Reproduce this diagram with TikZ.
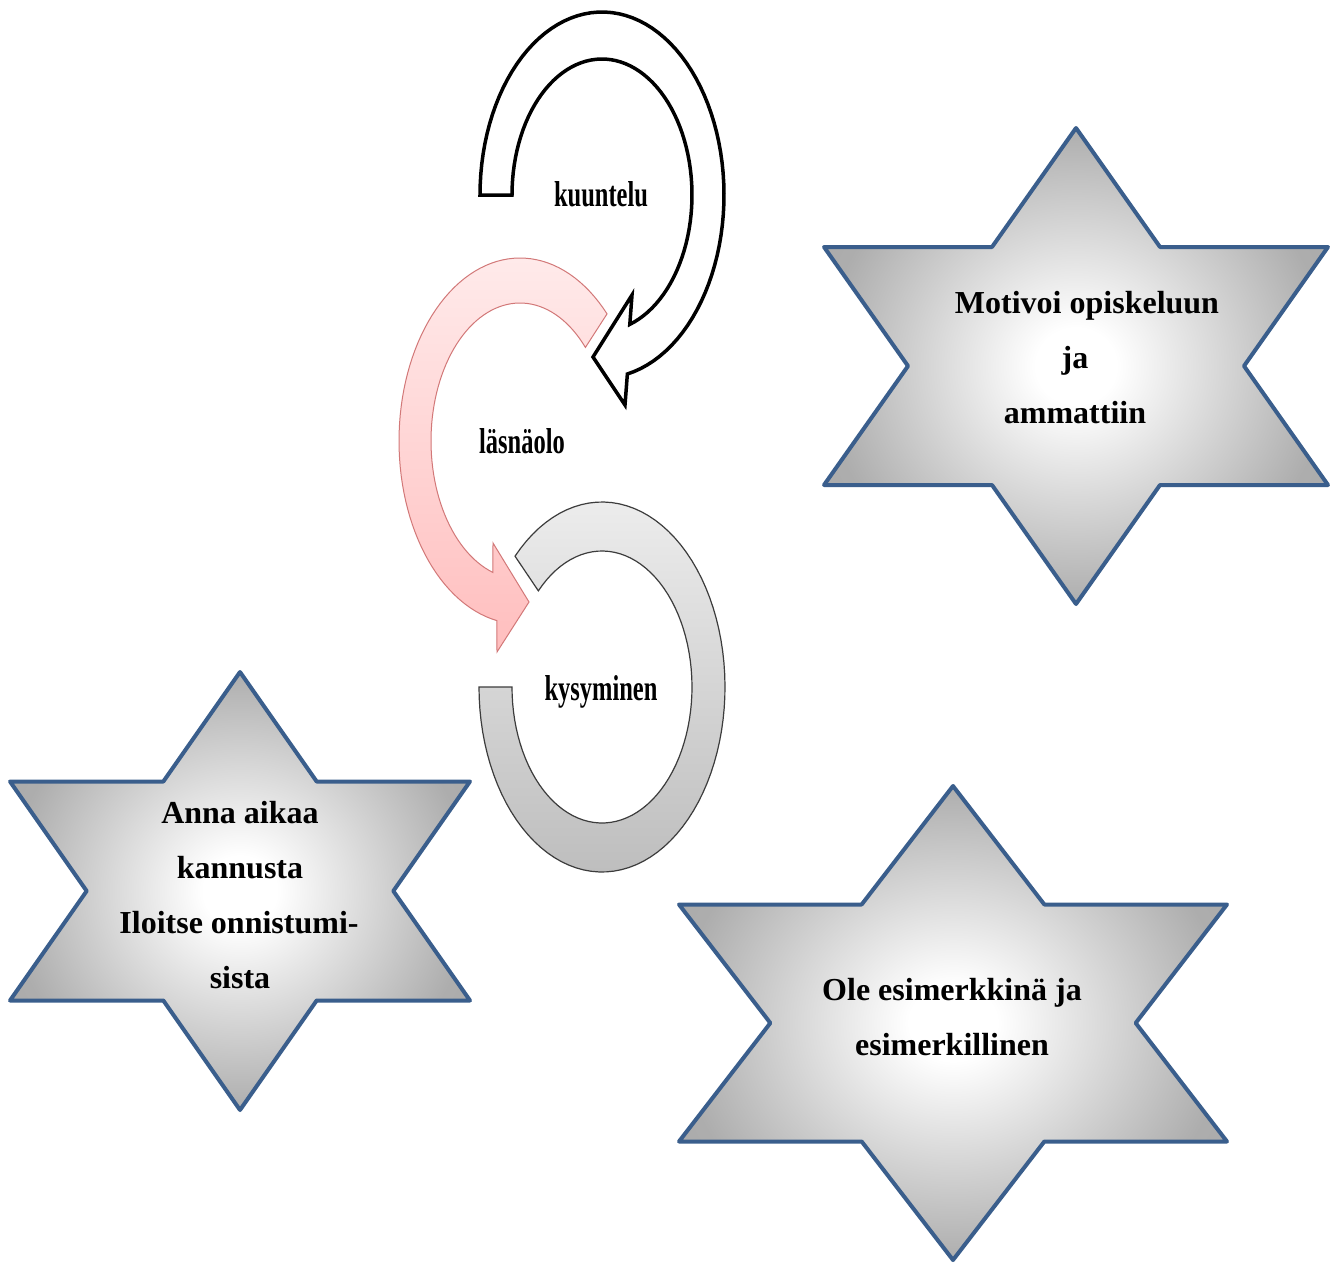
\documentclass[tikz,border=0pt]{standalone}
\usepackage{fontspec}
\usepackage{graphicx}
\setmainfont{Liberation Serif}
\definecolor{starline}{RGB}{58,94,140}
\definecolor{pinkline}{RGB}{210,120,120}
\definecolor{pinktop}{RGB}{255,234,234}
\definecolor{pinkbot}{RGB}{255,190,190}
\definecolor{ringtop}{RGB}{236,236,236}
\definecolor{ringbot}{RGB}{190,190,190}
\definecolor{ringline}{RGB}{60,60,60}

% soft radial glow for the stars: white centre fading to grey
\pgfdeclareradialshading{starglow}{\pgfpoint{0bp}{0bp}}{%
  color(0bp)=(white); color(4bp)=(white); color(25bp)=(black!32); color(50bp)=(black!40)}

% six-pointed star: centre x, centre y, half height, half width
\newcommand{\sixstar}[4]{%
  \path[starshape]
    ({#1},{#2-#3}) -- ({#1+#4/3},{#2-#3/2}) -- ({#1+#4},{#2-#3/2})
    -- ({#1+2*#4/3},{#2}) -- ({#1+#4},{#2+#3/2}) -- ({#1+#4/3},{#2+#3/2})
    -- ({#1},{#2+#3}) -- ({#1-#4/3},{#2+#3/2}) -- ({#1-#4},{#2+#3/2})
    -- ({#1-2*#4/3},{#2}) -- ({#1-#4},{#2-#3/2}) -- ({#1-#4/3},{#2-#3/2})
    -- cycle;}

\tikzset{
  starshape/.style={draw=starline, line width=4pt, line join=round,
    shading=starglow},
  startext/.style={anchor=base, inner sep=0pt,
    font=\fontsize{32}{38}\selectfont\bfseries},
  looptext/.style={anchor=base, inner sep=0pt,
    font=\fontsize{36}{40}\selectfont\bfseries},
  blackloop/.style={draw=black, line width=3.5pt, fill=white},
  pinkloop/.style={draw=pinkline, line width=1pt, top color=pinktop, bottom color=pinkbot},
  greyloop/.style={draw=ringline, line width=1.2pt, top color=ringtop, bottom color=ringbot},
}

\begin{document}
\begin{tikzpicture}[x=1pt, y=-1pt]
  \useasboundingbox (0,0) rectangle (1334,1263);
  \fill[white] (0,0) rectangle (1334,1263);

  % stars
  \sixstar{1076}{366}{238}{252}
  \sixstar{240}{891}{219}{230}
  \sixstar{953}{1023}{237}{274}

  % grey open ring (kysyminen)
  \path[greyloop]
    plot[domain=180:-135, samples=90] ({602+123*cos(\x)}, {687+185*sin(\x)})
    -- plot[domain=-135:180, samples=90] ({602+90*cos(\x)}, {687+136*sin(\x)})
    -- cycle;

  % pink circular arrow (läsnäolo)
  \path[pinkloop]
    plot[domain=-44:-259, samples=80] ({520+121*cos(\x)}, {441+183*sin(\x)})
    -- (497,652) -- (529,602) -- (493,543)
    -- plot[domain=-252.3:-42.7, samples=80] ({520+89*cos(\x)}, {441+138*sin(\x)})
    -- cycle;

  % black circular arrow (kuuntelu)
  \path[blackloop]
    plot[domain=180:438, samples=80] ({602+122*cos(\x)}, {195+183*sin(\x)})
    -- (625,405) -- (593,357) -- (632,295)
    -- plot[domain=432:180, samples=80] ({602+90*cos(\x)}, {195+136*sin(\x)})
    -- cycle;

  % labels of the loop
  \node[looptext] (kuuntelu) at (601,206) {\scalebox{0.68}[1]{kuuntelu}};
  \node[looptext] (lasnaolo) at (522,453) {\scalebox{0.68}[1]{läsnäolo}};
  \node[looptext] (kysyminen) at (601,700) {\scalebox{0.68}[1]{kysyminen}};

  % star texts
  \node[startext] (mot1) at (1087,313) {Motivoi opiskeluun};
  \node[startext] (mot2) at (1075,368) {ja};
  \node[startext] (mot3) at (1075,423) {ammattiin};

  \node[startext] (anna1) at (240,823) {Anna aikaa};
  \node[startext] (anna2) at (240,878) {kannusta};
  \node[startext] (anna3) at (239,933) {Iloitse onnistumi-};
  \node[startext] (anna4) at (240,988) {sista};

  \node[startext] (ole1) at (952,1000) {Ole esimerkkinä ja};
  \node[startext] (ole2) at (952,1055) {esimerkillinen};
\end{tikzpicture}
\end{document}
